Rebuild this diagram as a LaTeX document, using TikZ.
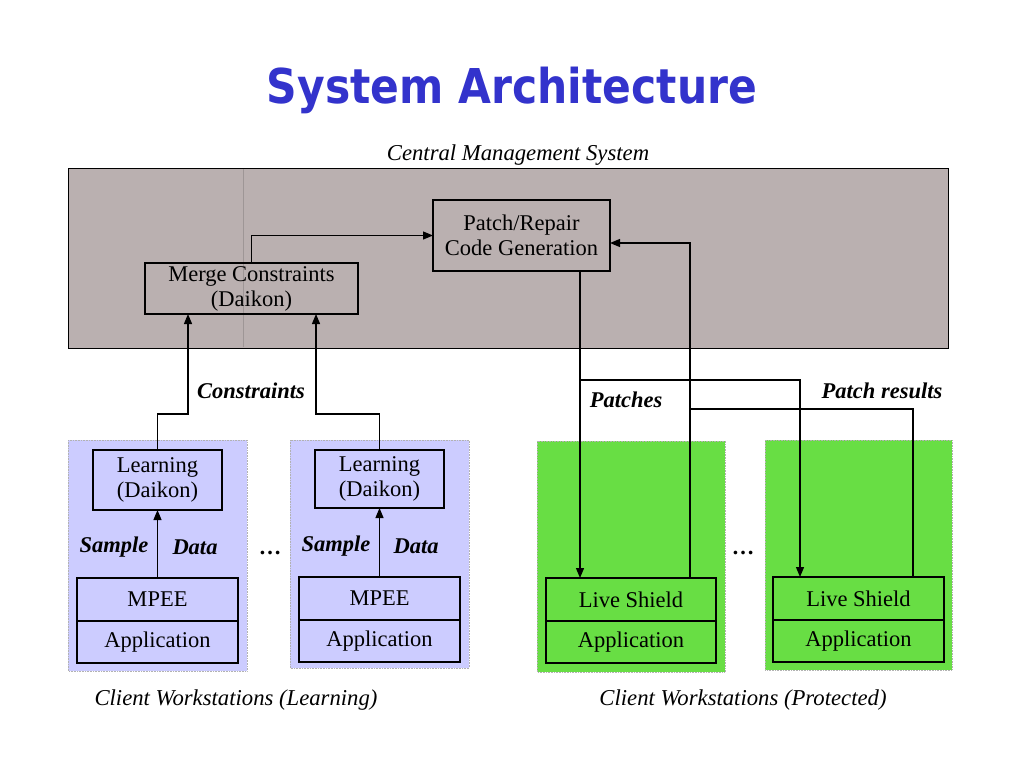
\documentclass[tikz,border=0pt]{standalone}
\usepackage{fontspec}
\setmainfont{Liberation Serif}
\newfontfamily\titlefont[FakeStretch=0.885]{DejaVu Sans}
\usepackage{xcolor}
\usetikzlibrary{arrows.meta}
\definecolor{titleblue}{RGB}{51,51,204}
\definecolor{cmsgray}{RGB}{186,176,176}
\definecolor{learnblue}{RGB}{204,204,255}
\definecolor{shieldgreen}{RGB}{104,222,68}

\begin{document}
\begin{tikzpicture}[x=1pt,y=-1pt,
    font=\fontsize{22.5}{25}\selectfont,
    box/.style={draw,line width=1.3pt,inner sep=0pt,outer sep=0pt,align=center},
    lbl/.style={font=\fontsize{22.5}{25}\selectfont\bfseries\itshape},
    captxt/.style={font=\fontsize{22.7}{25}\selectfont\itshape,anchor=base},
    panel/.style={draw=black!30,densely dotted,line width=0.6pt},
     Arr/.style={-{Triangle[length=10pt,width=8pt]},line width=1.2pt},
     Line/.style={line width=1.2pt},
                        ]
    \useasboundingbox (0,0) rectangle (1024,768);
    \fill[white] (0,0) rectangle (1024,768);

    % title and captions
    \node[text=titleblue,anchor=base,font=\titlefont\bfseries\fontsize{48}{50}\selectfont] (title_node) at (512,103) {System Architecture};
    \node[captxt] (cms_label) at (518,160) {Central Management System};
    \node[captxt] (learn_label) at (236,705) {Client Workstations (Learning)};
    \node[captxt] (prot_label) at (743,705) {Client Workstations (Protected)};

    % central management system
    \filldraw[fill=cmsgray,draw=black,line width=1pt] (68,168) rectangle (948,348);
    \draw[cmsgray!85!black,line width=0.6pt] (243,169) -- (243,347);
    \node[box,minimum width=177,minimum height=71] (patch_node) at (521.5,235.5) {Patch/Repair\\Code Generation};
    \node[box,minimum width=213,minimum height=51] (merge_node) at (251.5,288.5) {Merge Constraints\\(Daikon)};

    % client workstations
    \filldraw[panel,fill=learnblue] (68,440) rectangle (247,671);
    \filldraw[panel,fill=learnblue] (290,440) rectangle (469,668);
    \filldraw[panel,fill=shieldgreen] (537,441) rectangle (725,672);
    \filldraw[panel,fill=shieldgreen] (765,440) rectangle (952,670);

    \node[box,minimum width=129,minimum height=60] (learn_a) at (157.5,480) {Learning\\(Daikon)};
    \node[box,minimum width=129,minimum height=58] (learn_b) at (379.5,479) {Learning\\(Daikon)};
    \node[box,minimum width=161,minimum height=43] (mpee_a) at (157.5,599.5) {MPEE};
    \node[box,minimum width=161,minimum height=42] (app_a) at (157.5,642) {Application};
    \node[box,minimum width=161,minimum height=43] (mpee_b) at (379.5,598.5) {MPEE};
    \node[box,minimum width=161,minimum height=42] (app_b) at (379.5,641) {Application};
    \node[box,minimum width=170,minimum height=43] (shield_a) at (631,599.5) {Live Shield};
    \node[box,minimum width=170,minimum height=42] (app_c) at (631,642) {Application};
    \node[box,minimum width=171,minimum height=43] (shield_b) at (858.5,598.5) {Live Shield};
    \node[box,minimum width=171,minimum height=42] (app_d) at (858.5,641) {Application};

    % labels
    \node[lbl] (constr_lbl) at (251,391) {Constraints};
    \node[lbl] (patches_lbl) at (626,400) {Patches};
    \node[lbl] (results_lbl) at (882,391) {Patch results};
    \node[lbl] (sample_a) at (114,547) {Sample};
    \node[lbl] (data_a) at (195,547) {Data};
    \node[lbl] (sample_b) at (336,546) {Sample};
    \node[lbl] (data_b) at (416,546) {Data};
    \node[font=\fontsize{22.5}{25}\selectfont\bfseries] (dots_a) at (270,553) {…};
    \node[font=\fontsize{22.5}{25}\selectfont\bfseries] (dots_b) at (743,553) {…};

    % connectors
    \coordinate (patch_out) at ([xshift=58.5]patch_node.south);
    \coordinate (fork) at (patch_out |- 0,380);
    \coordinate (res_join) at (690,409);

    \draw[Arr] (merge_node.north) |- (patch_node.west);
    \draw[Arr] (learn_a.north) -- ++(0,-36) -| ([xshift=-63.5]merge_node.south);
    \draw[Arr] (learn_b.north) -- ++(0,-36) -| ([xshift=64.5]merge_node.south);
    \draw[Arr] (mpee_a) -- (learn_a);
    \draw[Arr] (mpee_b) -- (learn_b);
    \draw[Arr] (patch_out) -- (patch_out |- shield_a.north);
    \draw[Arr] (fork) -| ([xshift=-58.5]shield_b.north);
    \draw[Arr] ([xshift=59]shield_a.north) |- ([yshift=-7.5]patch_node.east);
    \draw[Line] ([xshift=54.5]shield_b.north) |- (res_join);

    \end{tikzpicture}
\end{document}
